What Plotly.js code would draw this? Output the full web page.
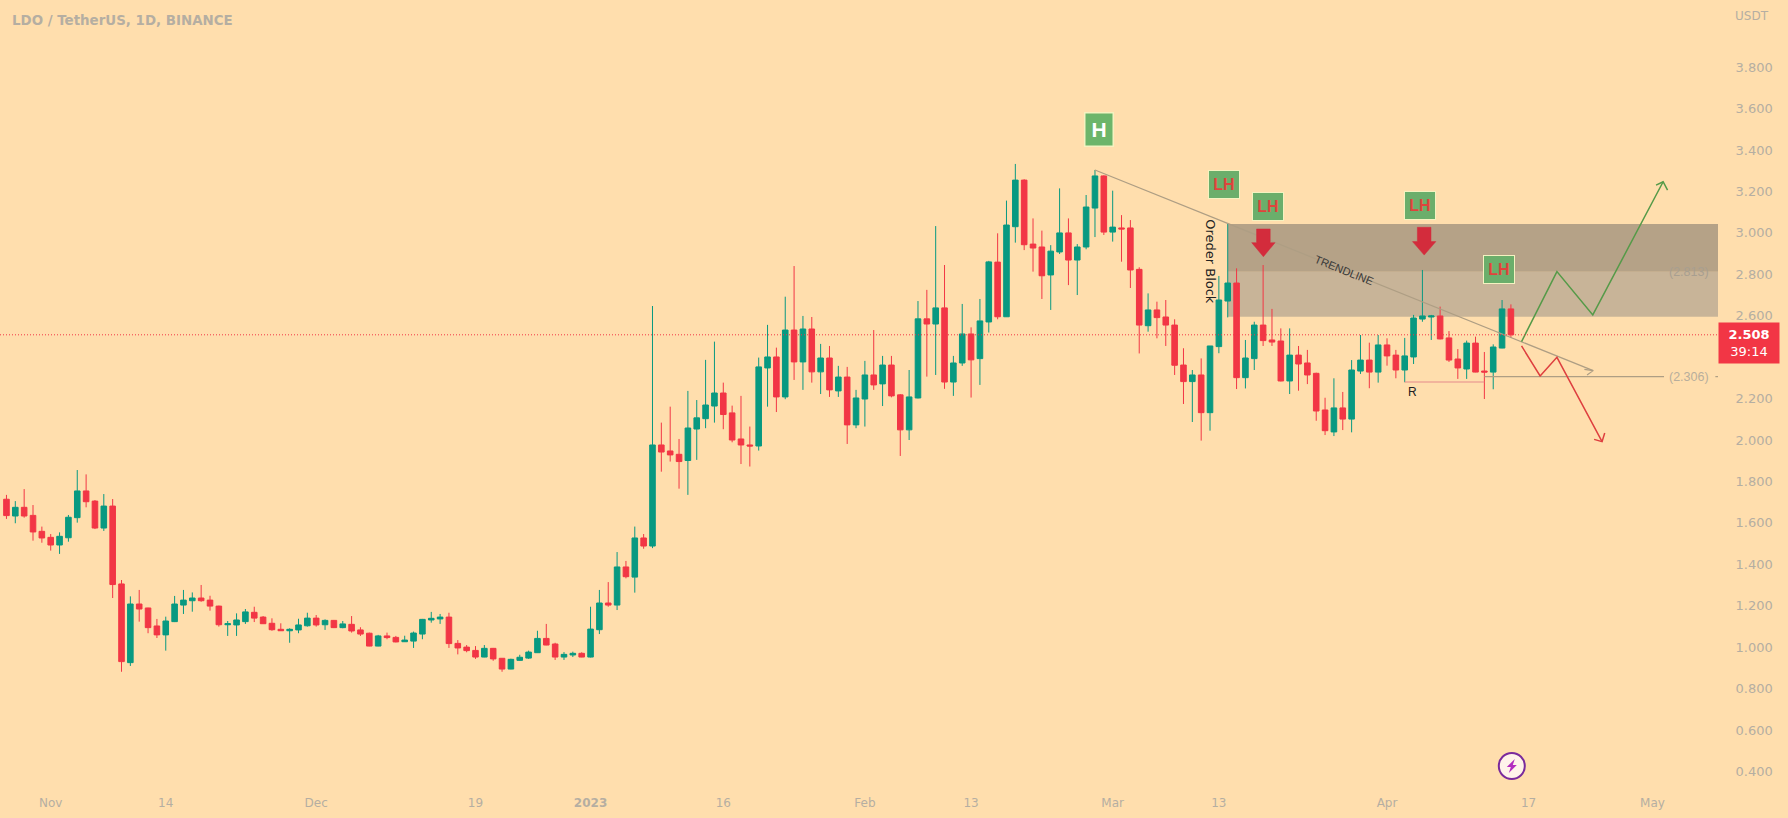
<!DOCTYPE html>
<html><head><meta charset="utf-8">
<script src="https://cdn.plot.ly/plotly-3.0.1.min.js"></script>
<style>html,body{margin:0;padding:0;background:#ffdead;overflow:hidden}#c{width:1788px;height:818px}</style>
</head><body><div id="c"></div>
<script>
const firstDay = Date.UTC(2022, 9, 27);
const opens = [1.714,1.633,1.675,1.636,1.559,1.530,1.493,1.528,1.625,1.754,
1.705,1.575,1.681,1.305,0.925,1.208,1.189,1.102,1.059,1.123,
1.203,1.224,1.237,1.227,1.198,1.108,1.107,1.123,1.168,1.145,
1.115,1.086,1.079,1.083,1.103,1.140,1.108,1.129,1.094,1.110,
1.083,1.067,1.005,1.054,1.047,1.026,1.029,1.063,1.131,1.136,
1.145,1.018,1.000,0.984,0.952,0.994,0.946,0.894,0.936,0.947,
0.973,1.042,1.015,0.952,0.962,0.970,0.952,1.084,1.213,1.203,
1.387,1.338,1.527,1.488,1.976,1.947,1.931,1.901,2.053,2.103,
2.164,2.227,2.131,2.005,1.976,1.971,2.348,2.401,2.208,2.531,
2.377,2.536,2.329,2.396,2.237,2.304,2.073,2.198,2.314,2.271,
2.362,2.218,2.049,2.203,2.585,2.560,2.638,2.280,2.372,2.512,
2.393,2.570,2.859,2.595,3.030,3.255,2.946,2.932,2.797,2.908,
3.000,2.869,2.932,3.120,3.275,3.004,3.024,3.024,2.824,2.552,
2.628,2.594,2.555,2.362,2.282,2.314,2.132,2.451,2.671,2.758,
2.301,2.393,2.555,2.483,2.478,2.285,2.410,2.372,2.322,2.145,
2.039,2.155,2.101,2.333,2.386,2.328,2.459,2.410,2.338,2.401,
2.584,2.594,2.599,2.493,2.391,2.343,2.468,2.333,2.328,2.444,2.633];
const highs = [1.735,1.705,1.763,1.686,1.582,1.546,1.554,1.638,1.855,1.834,
1.710,1.739,1.715,1.324,1.245,1.276,1.190,1.136,1.147,1.247,
1.276,1.264,1.300,1.248,1.200,1.126,1.163,1.184,1.195,1.150,
1.139,1.115,1.091,1.137,1.166,1.155,1.134,1.131,1.126,1.150,
1.096,1.070,1.059,1.070,1.054,1.055,1.075,1.136,1.170,1.160,
1.166,1.034,1.010,1.005,1.010,0.996,0.947,0.944,0.963,0.983,
1.079,1.112,1.021,0.976,0.978,0.975,1.195,1.276,1.314,1.459,
1.416,1.582,1.546,2.647,2.084,2.161,2.005,2.237,2.193,2.387,
2.475,2.277,2.166,2.213,2.065,2.398,2.556,2.446,2.692,2.840,
2.599,2.594,2.464,2.454,2.358,2.353,2.242,2.382,2.531,2.406,
2.406,2.222,2.338,2.671,2.725,3.033,2.845,2.406,2.657,2.544,
2.681,2.865,2.998,3.156,3.333,3.259,3.070,3.011,2.941,3.215,
3.070,2.946,3.183,3.304,3.278,3.204,3.086,3.062,2.834,2.708,
2.668,2.676,2.583,2.443,2.338,2.394,2.454,2.792,3.043,2.829,
2.483,2.571,2.845,2.633,2.539,2.539,2.454,2.435,2.325,2.204,
2.298,2.232,2.386,2.507,2.470,2.507,2.491,2.435,2.493,2.604,
2.821,2.604,2.644,2.526,2.439,2.480,2.499,2.425,2.462,2.676,2.655];
const lows = [1.619,1.598,1.625,1.514,1.504,1.466,1.450,1.509,1.601,1.675,
1.570,1.561,1.237,0.881,0.909,1.123,1.067,1.044,0.983,1.121,
1.160,1.171,1.219,1.176,1.099,1.054,1.054,1.112,1.121,1.112,
1.079,1.078,1.021,1.067,1.099,1.099,1.083,1.092,1.091,1.070,
1.054,1.004,1.004,1.038,1.023,1.025,0.996,1.038,1.118,1.112,
0.996,0.965,0.975,0.943,0.951,0.934,0.881,0.893,0.934,0.943,
0.972,1.009,0.938,0.938,0.952,0.951,0.950,1.063,1.195,1.179,
1.332,1.263,1.475,1.478,1.847,1.896,1.765,1.735,1.904,2.057,
2.084,2.052,1.989,1.884,1.872,1.949,2.161,2.135,2.197,2.290,
2.242,2.277,2.222,2.208,2.208,1.981,2.057,2.065,2.242,2.164,
2.206,1.923,2.000,2.201,2.306,2.314,2.247,2.213,2.358,2.205,
2.266,2.519,2.583,2.594,2.953,2.917,2.813,2.681,2.628,2.898,
2.748,2.700,2.921,2.980,2.990,2.958,2.861,2.734,2.418,2.523,
2.491,2.454,2.314,2.174,2.087,1.997,2.045,2.419,2.592,2.246,
2.249,2.338,2.454,2.454,2.283,2.222,2.238,2.270,2.093,2.024,
2.019,2.048,2.037,2.319,2.250,2.277,2.359,2.298,2.279,2.367,
2.571,2.483,2.486,2.377,2.295,2.295,2.327,2.198,2.245,2.443,2.493];
const closes = [1.635,1.675,1.633,1.556,1.527,1.493,1.535,1.627,1.754,1.702,
1.575,1.681,1.302,0.930,1.208,1.184,1.094,1.059,1.126,1.208,
1.227,1.237,1.224,1.198,1.108,1.113,1.131,1.170,1.140,1.113,
1.084,1.079,1.086,1.107,1.140,1.107,1.129,1.094,1.112,1.078,
1.063,1.005,1.054,1.046,1.025,1.034,1.068,1.134,1.139,1.145,
1.017,0.996,0.983,0.952,0.994,0.943,0.894,0.941,0.951,0.976,
1.042,1.010,0.952,0.965,0.970,0.952,1.087,1.213,1.203,1.387,
1.340,1.527,1.488,1.976,1.942,1.928,1.896,2.058,2.107,2.169,
2.227,2.123,2.000,1.976,1.971,2.353,2.401,2.208,2.531,2.377,
2.536,2.329,2.396,2.242,2.304,2.073,2.203,2.314,2.266,2.362,
2.213,2.049,2.208,2.585,2.560,2.638,2.280,2.372,2.512,2.387,
2.575,2.860,2.595,3.038,3.255,2.943,2.927,2.793,2.912,3.000,
2.869,2.932,3.125,3.275,3.004,3.028,3.019,2.821,2.555,2.628,
2.591,2.555,2.361,2.282,2.314,2.132,2.454,2.676,2.758,2.301,
2.396,2.555,2.480,2.473,2.285,2.410,2.367,2.314,2.140,2.045,
2.155,2.101,2.338,2.386,2.328,2.459,2.406,2.338,2.406,2.589,
2.599,2.599,2.488,2.386,2.348,2.468,2.328,2.328,2.449,2.633,2.508];
const xTickDays = [5,18,35,53,66,81,97,109,125,137,156,172,186];
const xTickText = ['Nov','14','Dec','19','<b>2023</b>','16','Feb','13','Mar','13','Apr','17','May'];
const yTicks = [0.4,0.6,0.8,1,1.2,1.4,1.6,1.8,2,2.2,2.6,2.8,3,3.2,3.4,3.6,3.8];
const lastPrice = 2.508, zoneTop = 3.043, zoneMid = 2.813, zoneBottom = 2.595, support = 2.306;

const d = i => new Date(firstDay + i * 864e5).toISOString().slice(0,19).replace('T',' ');
const dates = opens.map((_, i) => d(i));
const GREEN='#089981', RED='#F23645', GREY='#b5aea2';
const FONT='"DejaVu Sans", sans-serif';

function path(pts, color, width){
  const x=[],y=[];
  pts.forEach(p=>{ if(p===null){x.push(null);y.push(null);} else {x.push(d(p[0]));y.push(p[1]);} });
  return {type:'scatter',mode:'lines',x,y,line:{color,width},hoverinfo:'skip'};
}
function downArrow(c,top,neck,tip){
  const pts=[[c-.77,top],[c+.77,top],[c+.77,neck],[c+1.32,neck],[c,tip],[c-1.32,neck],[c-.77,neck],[c-.77,top]];
  return {type:'scatter',mode:'lines',x:pts.map(p=>d(p[0])),y:pts.map(p=>p[1]),fill:'toself',fillcolor:'#D32C3C',line:{color:'#D32C3C',width:0.5},hoverinfo:'skip'};
}
const traces=[
 {type:'candlestick',x:dates,open:opens,high:highs,low:lows,close:closes,whiskerwidth:0,
  increasing:{line:{color:GREEN,width:1},fillcolor:GREEN},
  decreasing:{line:{color:RED,width:1},fillcolor:RED},hoverinfo:'skip'},
 path([[123,3.304],[179.3,2.335],null,[178.3,2.341],[179.3,2.335],[178.6,2.314]],'#AE9E84',1.2),
 path([[167,support],[187.3,support],null,[193.1,support],[193.6,support]],'#AE9E84',1.2),
 path([[158,2.28],[167,2.28]],'#E58A8C',1.2),
 path([[171.2,2.475],[175.2,2.813],[179.25,2.604],[187.2,3.247],null,[186.4,3.231],[187.2,3.247],[187.7,3.207]],'#559A48',1.5),
 path([[171.2,2.454],[173.3,2.309],[175.2,2.399],[180.3,1.992],null,[180.6,2.034],[180.3,1.992],[179.4,2.003]],'#DE3F3F',1.5),
 downArrow(142.03,3.019,2.953,2.885),
 downArrow(160.2,3.027,2.958,2.893)
];
const rect=(y0,y1,fill)=>({type:'rect',xref:'x',yref:'y',x0:d(138),x1:d(195),y0,y1,fillcolor:fill,line:{width:0},layer:'below'});
const shapes=[
 rect(zoneBottom,zoneMid,'#C8B498'),
 rect(zoneMid,zoneTop,'#B5A287'),
 {type:'line',xref:'paper',yref:'y',x0:0,x1:1,y0:lastPrice,y1:lastPrice,line:{color:RED,width:1,dash:'1px,2px'},layer:'above'},
 {type:'circle',xref:'x',yref:'y',xsizemode:'pixel',ysizemode:'pixel',xanchor:d(170.1),yanchor:0.426,x0:-13,x1:13,y0:-13,y1:13,fillcolor:'#FFF3EA',line:{color:'#7A2A9C',width:2}},
 {type:'path',xref:'x',yref:'y',xsizemode:'pixel',ysizemode:'pixel',xanchor:d(170.1),yanchor:0.426,path:'M 3,7 L -5,-1 L -1,-1 L -3,-7 L 5,1 L 1,1 Z',fillcolor:'#B32CC0',line:{width:0}}
];
const lh=(i,p)=>({xref:'x',yref:'y',x:d(i),y:p,text:'<b>LH</b>',showarrow:false,font:{family:'"Liberation Sans",sans-serif',size:16,color:'#E0433C'},bgcolor:'#6BAE6B',bordercolor:'#F4F2C0',borderwidth:1,borderpad:3,width:24,height:21});
const annotations=[
 {xref:'paper',yref:'paper',x:10/1718,y:1-20.5/788,xanchor:'left',yanchor:'middle',text:'<b>LDO / TetherUS, 1D, BINANCE</b>',showarrow:false,font:{family:'"DejaVu Sans",sans-serif',size:13.4,color:GREY}},
 {xref:'paper',yref:'paper',x:1,y:1-16/788,xanchor:'left',yanchor:'middle',xshift:15,text:'USDT',showarrow:false,font:{family:FONT,size:12,color:GREY}},
 {xref:'paper',yref:'y',x:1,y:2.468,xanchor:'left',yanchor:'middle',xshift:0,text:'<b>2.508</b><br>39:14',showarrow:false,align:'center',width:58,height:38,bgcolor:RED,font:{family:FONT,size:13,color:'#fff'}},
 {xref:'x',yref:'y',x:d(123.4),y:3.497,text:'<b>H</b>',showarrow:false,font:{family:'"Liberation Sans",sans-serif',size:21,color:'#FFFFFF'},bgcolor:'#6CB56A',bordercolor:'#F4F2C0',borderwidth:1.5,borderpad:3,width:21,height:26},
 lh(137.6,3.233),lh(142.6,3.127),lh(159.7,3.131),lh(168.7,2.824),
 {xref:'x',yref:'y',x:d(158.85),y:2.23,text:'R',showarrow:false,font:{family:'"Liberation Sans",sans-serif',size:12,color:'#222'}},
 {xref:'x',yref:'y',x:d(151.1),y:2.821,text:'TRENDLINE',textangle:22,showarrow:false,font:{family:'"Liberation Sans",sans-serif',size:11,color:'#3a3a3a'}},
 {xref:'x',yref:'y',x:d(136.1),y:2.859,text:'Oreder Block',textangle:90,showarrow:false,font:{family:FONT,size:13,color:'#222'}},
 {xref:'x',yref:'y',x:d(190.1),y:zoneMid,text:'(2.813)',showarrow:false,font:{family:'"Liberation Sans",sans-serif',size:12.5,color:'#A89F90'}},
 {xref:'x',yref:'y',x:d(190.1),y:support,text:'(2.306)',showarrow:false,font:{family:'"Liberation Sans",sans-serif',size:12.5,color:'#B8AE9C'}}
];
const layout={
 width:1788,height:818,autosize:false,showlegend:false,
 margin:{l:0,r:70,t:0,b:30,pad:0},
 paper_bgcolor:'#FFDEAD',plot_bgcolor:'#FFDEAD',
 dragmode:false,hovermode:false,boxgap:0.1,
 xaxis:{type:'date',range:[d(-0.73),d(193.4)],rangeslider:{visible:false},showgrid:false,zeroline:false,showline:false,
  tickmode:'array',tickvals:xTickDays.map(d),ticktext:xTickText,ticks:'outside',ticklen:4,tickcolor:'rgba(0,0,0,0)',tickangle:0,
  tickfont:{family:FONT,size:12,color:GREY}},
 yaxis:{side:'right',range:[0.3197,4.1246],showgrid:false,zeroline:false,showline:false,
  tickmode:'array',tickvals:yTicks,tickformat:'.3f',ticks:'outside',ticklen:14,tickcolor:'rgba(0,0,0,0)',
  tickfont:{family:FONT,size:13,color:GREY}},
 shapes,annotations
};
Plotly.newPlot('c',traces,layout,{displayModeBar:false,staticPlot:true});
</script></body></html>
